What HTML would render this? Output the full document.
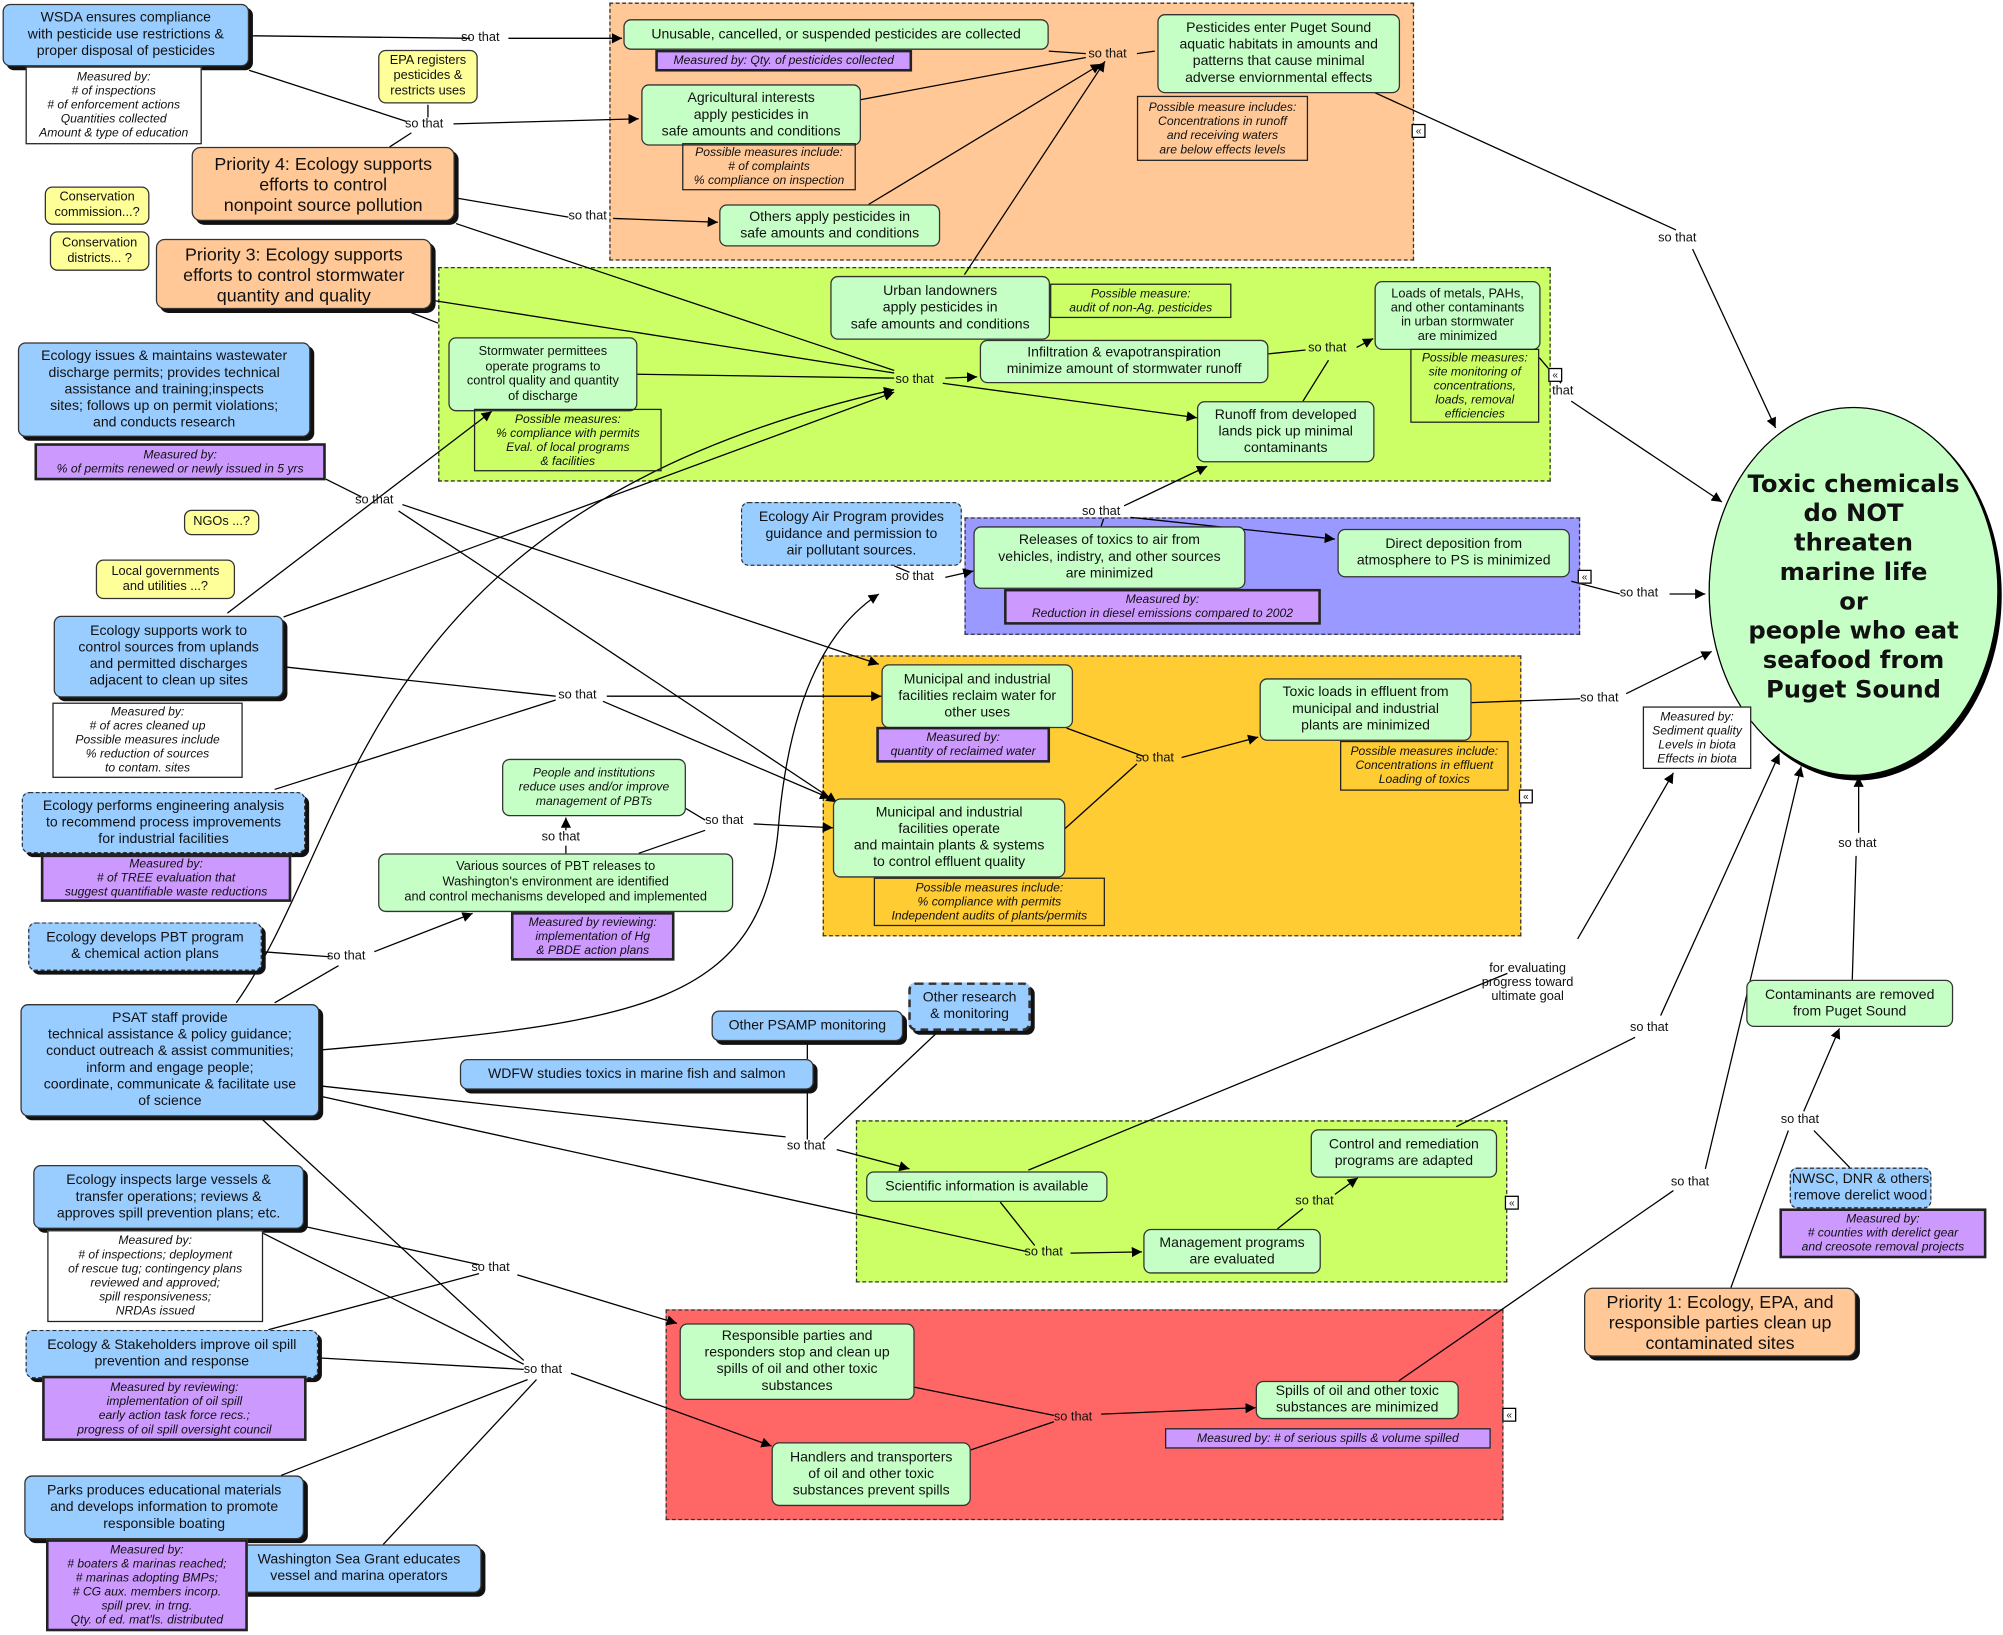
<!DOCTYPE html>
<html><head><meta charset="utf-8">
<style>
html,body{margin:0;padding:0;background:#fff;width:2003px;height:1634px;overflow:hidden}
#w{position:absolute;left:0;top:0;width:1568px;height:1280px;transform:scale(1.27742);transform-origin:0 0;font-family:"Liberation Sans","DejaVu Sans",sans-serif;color:#111}
.r{position:absolute;border:1px dashed #333;box-sizing:border-box}
.n{position:absolute;box-sizing:border-box;display:flex;align-items:center;justify-content:center;text-align:center;font-size:11px;line-height:13px;border:1px solid #333;border-radius:6px;white-space:nowrap}
.b{background:#99ccff;box-shadow:3px 3px 0 #111}
.g{background:#c6ffc6}
.o{background:#ffc896;box-shadow:3px 3px 0 #111;font-size:14px;line-height:16px;border-radius:7px}
.y{background:#ffff99;font-size:10px;line-height:12px}
.m{position:absolute;box-sizing:border-box;border:1px solid #222;font-style:italic;font-size:9.5px;line-height:11px;text-align:center;display:flex;align-items:center;justify-content:center;white-space:nowrap}
.w{background:#fff}
.p{background:#cc99ff;border:2px solid #222}
.d{border-style:dashed}
.l{position:absolute;font-size:10px;background:transparent;white-space:nowrap}
.x{position:absolute;width:9px;height:9px;border:1px solid #000;background:#fff;font-size:8px;line-height:9px;text-align:center}
svg{position:absolute;left:0;top:0}
</style></head><body><div id="w">
<div class="r" style="left:477px;top:2px;width:630px;height:202px;background:#ffc896"></div>
<div class="r" style="left:343px;top:209px;width:871px;height:168px;background:#ccff66"></div>
<div class="r" style="left:755px;top:405px;width:482px;height:92px;background:#9999ff"></div>
<div class="r" style="left:644px;top:513px;width:547px;height:220px;background:#ffcc33"></div>
<div class="r" style="left:670px;top:877px;width:510px;height:127px;background:#ccff66"></div>
<div class="r" style="left:521px;top:1025px;width:656px;height:165px;background:#ff6666"></div>

<svg width="1568" height="1280" viewBox="0 0 1568 1280">
<defs><marker id="a" viewBox="0 0 10 10" refX="10" refY="5" markerWidth="8" markerHeight="8" orient="auto"><path d="M0,0L10,5L0,10z" fill="#000"/></marker></defs>
<g stroke="#000" stroke-width="1" fill="none">
<path d="M195,28L368,30M398,30L487,30" marker-end="url(#a)"/>
<path d="M195,55L318,95M305,115L322,104M335,82L335,92"/>
<path d="M355,97L500,93" marker-end="url(#a)"/>
<path d="M357,155L445,170M480,171L562,174" marker-end="url(#a)"/>
<path d="M821,40L850,42M674,78L850,45M890,42L904,40"/>
<path d="M680,160L862,50" marker-end="url(#a)"/>
<path d="M755,215L865,48" marker-end="url(#a)"/>
<path d="M1075,72L1312,180M1325,195L1390,335" marker-end="url(#a)"/>
<path d="M357,175L700,290M338,235L700,292M499,293L700,296M315,242L343,253"/>
<path d="M740,296L765,295" marker-end="url(#a)"/>
<path d="M738,300L937,327" marker-end="url(#a)"/>
<path d="M185,785C280,650 280,400 700,305" marker-end="url(#a)"/>
<path d="M222,483L700,307" marker-end="url(#a)"/>
<path d="M178,480L385,322" marker-end="url(#a)"/>
<path d="M993,277L1022,274M1020,314L1040,282"/>
<path d="M1062,272L1075,265" marker-end="url(#a)"/>
<path d="M1205,280L1222,300M1230,314L1348,393" marker-end="url(#a)"/>
<path d="M1230,455L1268,465M1307,465L1335,465" marker-end="url(#a)"/>
<path d="M1152,550L1237,547M1273,543L1340,510" marker-end="url(#a)"/>
<path d="M862,412L864,406"/>
<path d="M880,396L945,365" marker-end="url(#a)"/>
<path d="M885,405L1045,422" marker-end="url(#a)"/>
<path d="M700,443L712,448M740,452L762,447" marker-end="url(#a)"/>
<path d="M250,822C500,800 600,790 610,640C620,540 650,490 688,465" marker-end="url(#a)"/>
<path d="M255,375L283,389M315,395L688,520" marker-end="url(#a)"/>
<path d="M312,400L655,628" marker-end="url(#a)"/>
<path d="M222,522L435,545M215,618L435,548"/>
<path d="M475,545L690,545" marker-end="url(#a)"/>
<path d="M472,549L650,625" marker-end="url(#a)"/>
<path d="M835,570L895,592M830,652L890,598M925,593L985,577" marker-end="url(#a)"/>
<path d="M537,633L552,642M590,645L652,648" marker-end="url(#a)"/>
<path d="M500,668L552,650"/>
<path d="M443,650L443,640" marker-end="url(#a)"/>
<path d="M443,668L443,662"/>
<path d="M205,745L258,749M215,785L265,756"/>
<path d="M293,745L370,715" marker-end="url(#a)"/>
<path d="M250,850L615,890M632,853L632,892M735,807L645,892M632,815L632,829"/>
<path d="M655,900L712,915" marker-end="url(#a)"/>
<path d="M250,858L805,980M783,941L810,975"/>
<path d="M838,981L894,980" marker-end="url(#a)"/>
<path d="M1000,962L1020,946M1045,935L1063,922" marker-end="url(#a)"/>
<path d="M805,916L1180,762M1235,735L1310,605" marker-end="url(#a)"/>
<path d="M1140,882L1280,812M1300,795L1393,590" marker-end="url(#a)"/>
<path d="M1095,1081L1310,932M1335,915L1410,600" marker-end="url(#a)"/>
<path d="M1450,767L1453,670M1455,652L1455,608" marker-end="url(#a)"/>
<path d="M1448,914L1420,885M1355,1008L1400,885M1412,870L1440,805" marker-end="url(#a)"/>
<path d="M238,960L375,990M210,1041L375,997M405,998L530,1036" marker-end="url(#a)"/>
<path d="M205,965L410,1068M205,876L410,1065M220,1155L413,1080M300,1209L420,1080M249,1063L410,1072"/>
<path d="M447,1075L604,1132" marker-end="url(#a)"/>
<path d="M716,1086L825,1108M760,1135L825,1113M862,1107L983,1102" marker-end="url(#a)"/>
</g>
<ellipse cx="1454" cy="466" rx="113" ry="145" fill="#000"/>
<ellipse cx="1451" cy="463" rx="113" ry="144" fill="#c6ffc6" stroke="#000"/>
</svg>

<div class="n g" style="left:1340px;top:330px;width:222px;height:260px;border:none;background:transparent;font-weight:bold;font-size:19px;line-height:23px;font-family:'DejaVu Sans',sans-serif">Toxic chemicals<br>do NOT<br>threaten<br>marine life<br>or<br>people who eat<br>seafood from<br>Puget Sound</div>

<div class="n b" style="left:2px;top:3px;width:193px;height:49px">WSDA ensures compliance<br>with pesticide use restrictions &amp;<br>proper disposal of pesticides</div>
<div class="n b" style="left:14px;top:268px;width:229px;height:74px">Ecology issues &amp; maintains wastewater<br>discharge permits; provides technical<br>assistance and training;inspects<br>sites; follows up on permit violations;<br>and conducts research</div>
<div class="n b" style="left:42px;top:482px;width:180px;height:64px">Ecology supports work to<br>control sources from uplands<br>and permitted discharges<br>adjacent to clean up sites</div>
<div class="n b d" style="left:17px;top:620px;width:222px;height:48px">Ecology performs engineering analysis<br>to recommend process improvements<br>for industrial facilities</div>
<div class="n b d" style="left:22px;top:722px;width:183px;height:38px">Ecology develops PBT program<br>&amp; chemical action plans</div>
<div class="n b" style="left:16px;top:786px;width:234px;height:88px">PSAT staff  provide<br>technical assistance &amp; policy guidance;<br>conduct outreach &amp; assist communities;<br>inform and engage people;<br>coordinate, communicate &amp; facilitate use<br>of science</div>
<div class="n b" style="left:26px;top:912px;width:212px;height:50px">Ecology inspects large vessels &amp;<br>transfer operations; reviews &amp;<br>approves spill prevention plans; etc.</div>
<div class="n b d" style="left:20px;top:1041px;width:229px;height:38px">Ecology &amp; Stakeholders improve oil spill<br>prevention and response</div>
<div class="n b" style="left:19px;top:1155px;width:219px;height:50px">Parks produces educational materials<br>and develops information to promote<br>responsible boating</div>
<div class="n b" style="left:185px;top:1209px;width:192px;height:38px">Washington Sea Grant educates<br>vessel and marina operators</div>
<div class="n b d" style="left:580px;top:393px;width:173px;height:50px;box-shadow:none">Ecology Air Program provides<br>guidance and permission to<br>air pollutant sources.</div>
<div class="n b" style="left:557px;top:791px;width:150px;height:24px">Other PSAMP monitoring</div>
<div class="n b d" style="left:711px;top:769px;width:96px;height:38px;border-width:2px">Other research<br>&amp; monitoring</div>
<div class="n b" style="left:360px;top:829px;width:277px;height:24px">WDFW studies toxics in marine fish and salmon</div>
<div class="n b d" style="left:1401px;top:914px;width:111px;height:32px;box-shadow:none">NWSC, DNR &amp; others<br>remove derelict wood</div>

<div class="n o" style="left:150px;top:115px;width:206px;height:58px">Priority 4:  Ecology supports<br>efforts to control<br>nonpoint source pollution</div>
<div class="n o" style="left:122px;top:187px;width:216px;height:55px">Priority 3:  Ecology supports<br>efforts to control stormwater<br>quantity and quality</div>
<div class="n o" style="left:1240px;top:1008px;width:213px;height:54px">Priority 1:  Ecology, EPA, and<br>responsible parties  clean up<br>contaminated sites</div>

<div class="n y" style="left:296px;top:39px;width:78px;height:42px">EPA registers<br>pesticides &amp;<br>restricts uses</div>
<div class="n y" style="left:35px;top:146px;width:82px;height:30px">Conservation<br>commission...?</div>
<div class="n y" style="left:39px;top:181px;width:78px;height:31px">Conservation<br>districts... ?</div>
<div class="n y" style="left:144px;top:399px;width:59px;height:20px">NGOs ...?</div>
<div class="n y" style="left:75px;top:438px;width:109px;height:31px">Local governments<br>and utilities ...?</div>

<div class="n g" style="left:488px;top:15px;width:333px;height:24px">Unusable, cancelled, or suspended pesticides are collected</div>
<div class="n g" style="left:906px;top:11px;width:190px;height:62px">Pesticides enter Puget Sound<br>aquatic habitats in amounts and<br>patterns that cause minimal<br>adverse enviornmental effects</div>
<div class="n g" style="left:502px;top:66px;width:172px;height:48px">Agricultural interests<br>apply pesticides in<br>safe amounts and conditions</div>
<div class="n g" style="left:563px;top:160px;width:173px;height:33px">Others apply pesticides in<br>safe amounts and conditions</div>
<div class="n g" style="left:650px;top:216px;width:172px;height:50px">Urban landowners<br>apply pesticides in<br>safe amounts and conditions</div>
<div class="n g" style="left:767px;top:266px;width:226px;height:34px">Infiltration &amp; evapotranspiration<br>minimize amount of stormwater runoff</div>
<div class="n g" style="left:1076px;top:220px;width:130px;height:54px;font-size:10px;line-height:11px">Loads of metals, PAHs,<br>and other contaminants<br>in urban stormwater<br>are minimized</div>
<div class="n g" style="left:351px;top:264px;width:148px;height:58px;font-size:10px;line-height:11.5px">Stormwater permittees<br>operate programs to<br>control quality and quantity<br>of discharge</div>
<div class="n g" style="left:937px;top:314px;width:139px;height:48px">Runoff from developed<br>lands pick up minimal<br>contaminants</div>
<div class="n g" style="left:762px;top:412px;width:213px;height:49px">Releases of toxics to air from<br>vehicles, indistry, and other sources<br>are minimized</div>
<div class="n g" style="left:1047px;top:414px;width:182px;height:38px">Direct deposition from<br>atmosphere to PS is minimized</div>
<div class="n g" style="left:690px;top:520px;width:150px;height:50px">Municipal and industrial<br>facilities reclaim water for<br>other uses</div>
<div class="n g" style="left:986px;top:531px;width:166px;height:49px">Toxic loads in effluent from<br>municipal and industrial<br>plants are minimized</div>
<div class="n g" style="left:393px;top:594px;width:144px;height:45px;font-style:italic;font-size:9.5px;line-height:11px">People and institutions<br>reduce uses and/or improve<br>management of PBTs</div>
<div class="n g" style="left:652px;top:625px;width:182px;height:62px">Municipal and industrial<br>facilities operate<br>and maintain plants &amp; systems<br>to control effluent quality</div>
<div class="n g" style="left:296px;top:668px;width:278px;height:46px;font-size:10px;line-height:12px">Various sources of PBT releases to<br>Washington's environment are identified<br>and control mechanisms developed and implemented</div>
<div class="n g" style="left:678px;top:917px;width:189px;height:24px">Scientific information is available</div>
<div class="n g" style="left:1026px;top:884px;width:146px;height:38px">Control and remediation<br>programs are adapted</div>
<div class="n g" style="left:895px;top:962px;width:139px;height:35px">Management programs<br>are evaluated</div>
<div class="n g" style="left:532px;top:1036px;width:184px;height:60px">Responsible parties and<br>responders stop and clean up<br>spills of oil and other toxic<br>substances</div>
<div class="n g" style="left:604px;top:1129px;width:156px;height:50px">Handlers and transporters<br>of oil and other toxic<br>substances prevent spills</div>
<div class="n g" style="left:983px;top:1081px;width:159px;height:30px">Spills of oil and other toxic<br>substances are minimized</div>
<div class="n g" style="left:1367px;top:767px;width:162px;height:37px">Contaminants are removed<br>from Puget Sound</div>

<div class="m w" style="left:20px;top:52px;width:138px;height:61px">Measured by:<br># of inspections<br># of enforcement actions<br>Quantities collected<br>Amount &amp; type of education</div>
<div class="m" style="left:534px;top:112px;width:136px;height:37px">Possible measures include:<br># of complaints<br>% compliance on inspection</div>
<div class="m" style="left:890px;top:75px;width:134px;height:51px">Possible measure includes:<br>Concentrations in runoff<br>and receiving waters<br>are below effects levels</div>
<div class="m" style="left:371px;top:320px;width:147px;height:49px">Possible measures:<br>% compliance with permits<br>Eval. of local programs<br>&amp; facilities</div>
<div class="m" style="left:822px;top:222px;width:142px;height:27px">Possible measure:<br>audit of non-Ag. pesticides</div>
<div class="m" style="left:1104px;top:273px;width:101px;height:58px">Possible measures:<br>site monitoring of<br>concentrations,<br>loads, removal<br>efficiencies</div>
<div class="m w" style="left:41px;top:550px;width:149px;height:59px">Measured by:<br># of acres cleaned up<br>Possible measures include<br>% reduction of sources<br>to  contam. sites</div>
<div class="m" style="left:1049px;top:580px;width:132px;height:39px">Possible measures include:<br>Concentrations in effluent<br>Loading of toxics</div>
<div class="m" style="left:684px;top:687px;width:181px;height:38px">Possible measures include:<br>% compliance with permits<br>Independent audits of plants/permits</div>
<div class="m w" style="left:1286px;top:553px;width:85px;height:49px">Measured by:<br>Sediment quality<br>Levels in biota<br>Effects in biota</div>
<div class="m w" style="left:37px;top:963px;width:169px;height:72px">Measured by:<br># of inspections; deployment<br>of rescue tug; contingency plans<br>reviewed and approved;<br>spill responsiveness;<br>NRDAs issued</div>

<div class="m p" style="left:513px;top:39px;width:201px;height:17px">Measured by:  Qty. of pesticides collected</div>
<div class="m p" style="left:27px;top:347px;width:228px;height:29px">Measured by:<br>% of permits renewed or newly issued in 5 yrs</div>
<div class="m p" style="left:786px;top:461px;width:248px;height:28px">Measured by:<br>Reduction in diesel emissions compared to 2002</div>
<div class="m p" style="left:686px;top:569px;width:136px;height:28px">Measured by:<br>quantity of reclaimed water</div>
<div class="m p" style="left:32px;top:669px;width:196px;height:37px">Measured by:<br># of TREE evaluation that<br>suggest quantifiable waste reductions</div>
<div class="m p" style="left:400px;top:714px;width:128px;height:38px">Measured by reviewing:<br>implementation of Hg<br>&amp; PBDE action plans</div>
<div class="m p" style="left:33px;top:1077px;width:207px;height:51px">Measured by reviewing:<br>implementation of oil spill<br>early action task force recs.;<br>progress of oil spill oversight council</div>
<div class="m p" style="left:36px;top:1205px;width:158px;height:72px">Measured by:<br># boaters &amp; marinas reached;<br># marinas adopting BMPs;<br># CG aux. members incorp.<br>spill prev. in trng.<br>Qty. of ed. mat'ls. distributed</div>
<div class="m p" style="left:912px;top:1118px;width:255px;height:16px;border-width:1px">Measured by: # of serious spills &amp; volume spilled</div>
<div class="m p" style="left:1393px;top:946px;width:162px;height:39px">Measured by:<br># counties with derelict gear<br>and creosote removal projects</div>

<div class="x" style="left:1105px;top:97px">«</div>
<div class="x" style="left:1212px;top:288px">«</div>
<div class="x" style="left:1235px;top:446px">«</div>
<div class="x" style="left:1189px;top:618px">«</div>
<div class="x" style="left:1178px;top:936px">«</div>
<div class="x" style="left:1176px;top:1102px">«</div>

<div class="l" style="left:361px;top:24px">so that</div>
<div class="l" style="left:317px;top:92px">so that</div>
<div class="l" style="left:445px;top:164px">so that</div>
<div class="l" style="left:852px;top:37px">so that</div>
<div class="l" style="left:701px;top:292px">so that</div>
<div class="l" style="left:1024px;top:267px">so that</div>
<div class="l" style="left:1215px;top:301px">that</div>
<div class="l" style="left:278px;top:386px">so that</div>
<div class="l" style="left:847px;top:395px">so that</div>
<div class="l" style="left:701px;top:446px">so that</div>
<div class="l" style="left:437px;top:539px">so that</div>
<div class="l" style="left:889px;top:588px">so that</div>
<div class="l" style="left:1237px;top:541px">so that</div>
<div class="l" style="left:1268px;top:459px">so that</div>
<div class="l" style="left:552px;top:637px">so that</div>
<div class="l" style="left:424px;top:650px">so that</div>
<div class="l" style="left:256px;top:743px">so that</div>
<div class="l" style="left:616px;top:892px">so that</div>
<div class="l" style="left:802px;top:975px">so that</div>
<div class="l" style="left:1014px;top:935px">so that</div>
<div class="l" style="left:369px;top:987px">so that</div>
<div class="l" style="left:410px;top:1067px">so that</div>
<div class="l" style="left:825px;top:1104px">so that</div>
<div class="l" style="left:1298px;top:181px">so that</div>
<div class="l" style="left:1439px;top:655px">so that</div>
<div class="l" style="left:1276px;top:799px">so that</div>
<div class="l" style="left:1394px;top:871px">so that</div>
<div class="l" style="left:1308px;top:920px">so that</div>
<div class="l" style="left:1160px;top:753px;text-align:center;line-height:11px">for evaluating<br>progress toward<br>ultimate goal</div>
</div></body></html>
